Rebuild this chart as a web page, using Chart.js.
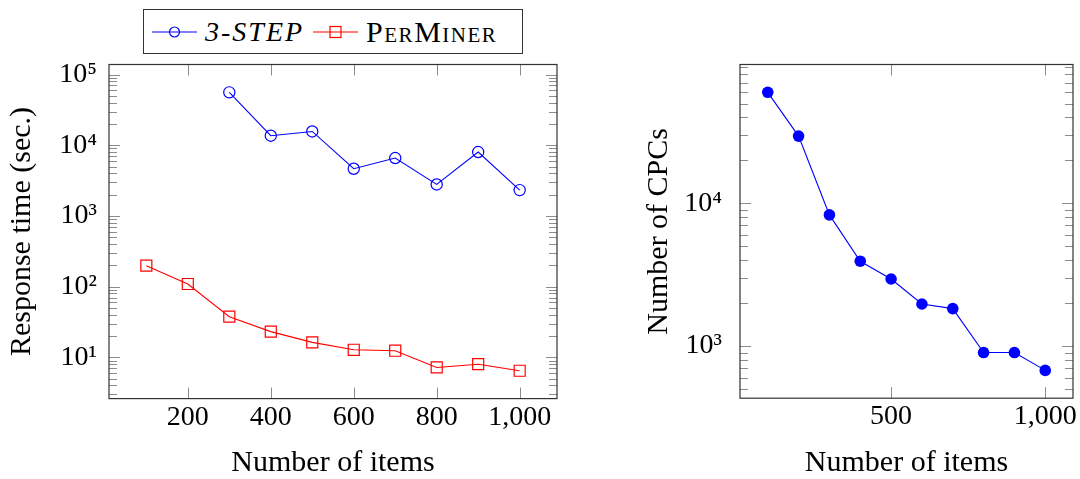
<!DOCTYPE html>
<html>
<head>
<meta charset="utf-8">
<title>Response time and number of CPCs</title>
<script src="https://cdn.jsdelivr.net/npm/chart.js@4.4.1/dist/chart.umd.min.js"></script>
<style>
  html, body { margin: 0; padding: 0; background: #fff; }
  #wrap { position: relative; width: 1080px; height: 479px; overflow: hidden; }
  #left-chart { position: absolute; left: 0; top: 0; }
  #right-chart { position: absolute; left: 600px; top: 0; }
  #legend {
    position: absolute; left: 143px; top: 9px; width: 380px; height: 45px;
    box-sizing: border-box; border: 1.3px solid #333; background: #fff;
    font-family: 'Liberation Serif', 'Times New Roman', serif; font-size: 28px; color: #000;
    display: flex; align-items: center; padding-left: 8px;
  }
  #legend .mark { width: 45px; height: 20px; flex: none; }
  #legend .txt { margin-left: 8px; margin-right: 9px; white-space: nowrap; }
</style>
</head>
<body>
<div id="wrap">
  <canvas id="left-chart" width="600" height="479"></canvas>
  <canvas id="right-chart" width="480" height="479"></canvas>
  <div id="legend"></div>
</div>
<script>
// DATA
const items = [100, 200, 300, 400, 500, 600, 700, 800, 900, 1000];
const threeStep = [null, null, 56000, 13650, 15670, 4650, 6590, 2790, 8020, 2320];
const perMiner = [198, 109, 37.6, 23.1, 16.3, 12.8, 12.4, 7.2, 8.0, 6.46];
const cpcs = [60000, 29600, 8300, 3930, 2950, 1970, 1830, 900, 900, 675];

const xTicksLeft = [200, 400, 600, 800, 1000];
const xTicksRight = [500, 1000];
const yTicksLeft = [10, 100, 1000, 10000, 100000];
const yTicksRight = [1000, 10000];

const serif = "'Liberation Serif', 'Times New Roman', serif";
const tickFont = { family: serif, size: 28 };
const titleFont = { family: serif, size: 30 };

const sup = { '-': '⁻', '0': '⁰', '1': '¹', '2': '²', '3': '³', '4': '⁴', '5': '⁵', '6': '⁶', '7': '⁷', '8': '⁸', '9': '⁹' };

function powLabel(v) {
    const e = Math.round(Math.log10(v));
    return '10' + String(e).split('').map(c => sup[c]).join('');
}

function plainLabel(v) {
    return Number(v).toLocaleString('en-US');
}

function pts(ys) {
    return items.map((x, i) => ({ x: x, y: ys[i] })).filter(p => p.y != null);
}

// pgfplots style: limits enlarged by 10% of the data range
function padLimits(vals, log) {
    const t = vals.filter(v => v != null).map(v => log ? Math.log10(v) : v);
    const lo = Math.min(...t), hi = Math.max(...t), pad = (hi - lo) * 0.1;
    return log ? { min: 10 ** (lo - pad), max: 10 ** (hi + pad) } : { min: lo - pad, max: hi + pad };
}

function minorLogTicks(min, max) {
    const out = [];
    for (let e = Math.floor(Math.log10(min)); e <= Math.ceil(Math.log10(max)); e++) {
        for (let m = 2; m <= 9; m++) {
            const v = m * 10 ** e;
            if (v > min && v < max) out.push(v);
        }
    }
    return out;
}

// frame + inward ticks on all sides
const axisFrame = {
    id: 'axisFrame',
    beforeDatasetsDraw(chart) {
        const { ctx, chartArea: a, scales: { x, y } } = chart;
        const line = (x1, y1, x2, y2) => { ctx.beginPath(); ctx.moveTo(x1, y1); ctx.lineTo(x2, y2); ctx.stroke(); };
        ctx.save();
        ctx.strokeStyle = '#8c8c8c';
        ctx.lineWidth = 1;
        x.ticks.forEach(t => {
            const px = Math.round(x.getPixelForValue(t.value)) + 0.5;
            line(px, a.bottom, px, a.bottom - 11);
            line(px, a.top, px, a.top + 11);
        });
        y.ticks.forEach(t => {
            const py = Math.round(y.getPixelForValue(t.value)) + 0.5;
            line(a.left, py, a.left + 11, py);
            line(a.right, py, a.right - 11, py);
        });
        minorLogTicks(y.min, y.max).forEach(v => {
            const py = Math.round(y.getPixelForValue(v)) + 0.5;
            line(a.left, py, a.left + 8, py);
            line(a.right, py, a.right - 8, py);
        });
        ctx.strokeStyle = '#333';
        ctx.lineWidth = 1.2;
        ctx.strokeRect(a.left, a.top, a.width, a.height);
        ctx.restore();
    }
};

function buildChart(id, datasets, o) {
    const xLim = padLimits(items, false);
    const yLim = padLimits(o.yValues, true);
    return new Chart(document.getElementById(id), {
        type: 'line',
        data: { datasets: datasets },
        plugins: [axisFrame],
        options: {
            responsive: false,
            animation: false,
            layout: { padding: o.padding },
            plugins: { legend: { display: false }, tooltip: { enabled: false } },
            scales: {
                x: {
                    type: 'linear', min: xLim.min, max: xLim.max,
                    afterBuildTicks: s => { s.ticks = o.xTicks.map(value => ({ value })); },
                    afterFit: s => { s.height = o.xHeight; },
                    ticks: { font: tickFont, color: '#000', padding: 2, maxRotation: 0, autoSkip: false, callback: plainLabel },
                    grid: { display: false, drawTicks: false },
                    border: { display: false },
                    title: { display: true, text: 'Number of items', font: titleFont, color: '#000', padding: { top: 0, bottom: -2 } }
                },
                y: {
                    type: 'logarithmic', min: yLim.min, max: yLim.max,
                    afterBuildTicks: s => { s.ticks = o.yTicks.map(value => ({ value })); },
                    afterFit: s => { s.width = o.yWidth; },
                    ticks: { font: tickFont, color: '#000', padding: o.yPad, autoSkip: false, callback: powLabel },
                    grid: { display: false, drawTicks: false },
                    border: { display: false },
                    title: { display: true, text: o.yTitle, font: titleFont, color: '#000', padding: { top: o.yTitlePad, bottom: 0 } }
                }
            }
        }
    });
}

const leftChart = buildChart('left-chart', [
    {
        label: '3-STEP', data: pts(threeStep),
        borderColor: '#0000ff', borderWidth: 1.1, fill: false, tension: 0,
        pointStyle: 'circle', pointRadius: 5.6, pointBorderWidth: 1.2,
        pointBorderColor: '#0000ff', pointBackgroundColor: 'rgba(255,255,255,0)'
    },
    {
        label: 'PerMiner', data: pts(perMiner),
        borderColor: '#ff0000', borderWidth: 1.1, fill: false, tension: 0,
        pointStyle: 'rect', pointRadius: 7.8, pointBorderWidth: 1.2,
        pointBorderColor: '#ff0000', pointBackgroundColor: 'rgba(255,255,255,0)'
    }
], {
    yValues: threeStep.concat(perMiner), xTicks: xTicksLeft, yTicks: yTicksLeft,
    padding: { left: 0, top: 64.5, right: 43, bottom: 0 },
    xHeight: 80.4, yWidth: 109, yPad: 12, yTitlePad: 4,
    yTitle: 'Response time (sec.)'
});

buildChart('right-chart', [
    {
        label: 'CPCs', data: pts(cpcs),
        borderColor: '#0000ff', borderWidth: 1.1, fill: false, tension: 0,
        pointStyle: 'circle', pointRadius: 5.8, pointBorderWidth: 0,
        pointBackgroundColor: '#0000ff'
    }
], {
    yValues: cpcs, xTicks: xTicksRight, yTicks: yTicksRight,
    padding: { left: 0, top: 64.5, right: 7, bottom: 0 },
    xHeight: 80.8, yWidth: 140, yPad: 18, yTitlePad: 41,
    yTitle: 'Number of CPCs'
});

// HTML legend for the left chart (line with marker + styled name)
const legendStyles = ['font-style: italic; letter-spacing: 2px;', 'font-variant: small-caps; font-size: 30px; letter-spacing: 1.5px;'];
const legendBox = document.getElementById('legend');
leftChart.data.datasets.forEach((ds, i) => {
    const c = ds.borderColor;
    const mark = ds.pointStyle === 'rect'
        ? `<rect x="17" y="4.5" width="11" height="11" fill="none" stroke="${c}" stroke-width="1.2"/>`
        : `<circle cx="22.5" cy="10" r="5" fill="none" stroke="${c}" stroke-width="1.2"/>`;
    legendBox.insertAdjacentHTML('beforeend',
        `<svg class="mark" viewBox="0 0 45 20"><line x1="0" y1="10" x2="45" y2="10" stroke="${c}" stroke-width="1.1"/>${mark}</svg>` +
        `<span class="txt" style="${legendStyles[i]}">${ds.label}</span>`);
});
</script>
</body>
</html>
